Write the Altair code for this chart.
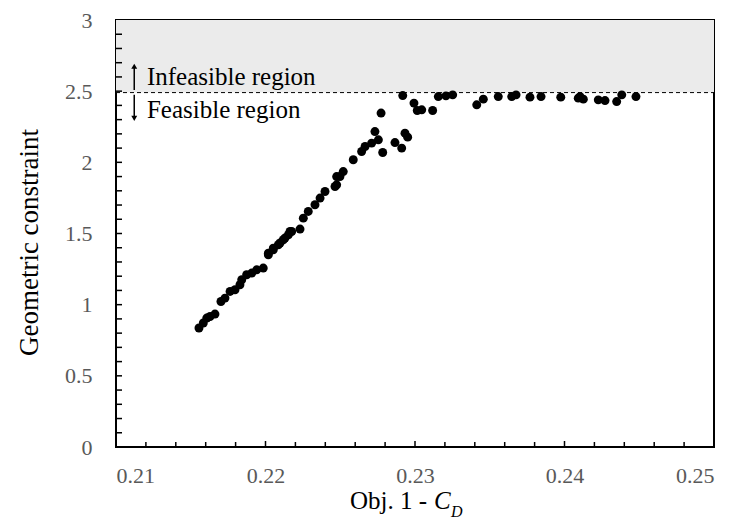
import altair as alt
import pandas as pd

# ---- data ----
cd_vals = [0.21555, 0.21584, 0.21607, 0.21629, 0.21662, 0.21702, 0.21729, 0.21763, 0.21796, 0.21829,
           0.21841, 0.21874, 0.21908, 0.21941, 0.21985, 0.22019, 0.22052, 0.22086, 0.22119, 0.22153,
           0.22175, 0.22019, 0.22052, 0.22097, 0.22130, 0.22164, 0.22231, 0.22253, 0.22286, 0.22331,
           0.22365, 0.22398, 0.22465, 0.22476, 0.22520, 0.22587, 0.22476, 0.22498, 0.22643, 0.22666,
           0.22710, 0.22732, 0.22755, 0.22784, 0.22773, 0.22866, 0.22911, 0.22933, 0.22951, 0.22918,
           0.22993, 0.23015, 0.23045, 0.23118, 0.23156, 0.23207, 0.23252, 0.23413, 0.23457, 0.23557,
           0.23647, 0.23676, 0.23769, 0.23843, 0.23975, 0.24092, 0.24104, 0.24126, 0.24226, 0.24271,
           0.24349, 0.24383, 0.24478]
geo_vals = [0.836, 0.871, 0.906, 0.917, 0.934, 1.022, 1.046, 1.093, 1.105, 1.140,
            1.175, 1.210, 1.222, 1.245, 1.257, 1.362, 1.386, 1.421, 1.456, 1.491,
            1.514, 1.350, 1.397, 1.433, 1.468, 1.514, 1.531, 1.608, 1.655, 1.702,
            1.749, 1.795, 1.830, 1.900, 1.935, 2.018, 1.842, 1.900, 2.076, 2.111,
            2.135, 2.216, 2.158, 2.069, 2.346, 2.139, 2.100, 2.205, 2.177, 2.469,
            2.416, 2.364, 2.369, 2.364, 2.462, 2.467, 2.474, 2.404, 2.444, 2.462,
            2.462, 2.474, 2.458, 2.462, 2.458, 2.451, 2.462, 2.444, 2.439, 2.434,
            2.427, 2.474, 2.462]

constraint_limit = 2.49
x_major = [0.21, 0.22, 0.23, 0.24, 0.25]
y_major = [0, 0.5, 1, 1.5, 2, 2.5, 3]
x_minor = [round(0.21 + 0.002 * i, 3) for i in range(1, 20) if i % 5 != 0]
y_minor = [round(0.1 * i, 1) for i in range(1, 30) if i % 5 != 0]
labels_up = ["Infeasible region"]
labels_down = ["Feasible region"]

W, H = 598, 427
FONT = "'Liberation Serif', 'Times New Roman', serif"

xs = alt.Scale(domain=[0.21, 0.25], nice=False, zero=False)
ys = alt.Scale(domain=[0, 3], nice=False, zero=False)

pts = pd.DataFrame({"cd": cd_vals, "geo": geo_vals})

# shaded infeasible band
band = alt.Chart(pd.DataFrame({"y0": [constraint_limit], "y1": [3]})).mark_rect(
    color="#ebebeb"
).encode(
    x=alt.value(0), x2=alt.value(W),
    y=alt.Y("y0:Q", scale=ys,
            axis=alt.Axis(values=y_major, format="~g", title="Geometric constraint",
                          ticks=False, tickSize=0, domain=False, grid=False,
                          labelPadding=24, labelFontSize=22, labelFont=FONT,
                          labelColor="#595959", titleFont=FONT, titleFontSize=27,
                          titleFontWeight="normal", titleColor="black",
                          titleX=-79, titleY=222, titleAngle=270,
                          titleBaseline="alphabetic", titleAlign="center")),
    y2="y1:Q",
)

limit = alt.Chart(pd.DataFrame({"y": [constraint_limit]})).mark_rule(
    color="black", strokeWidth=1, strokeDash=[4, 3]
).encode(x=alt.value(0), x2=alt.value(W), y=alt.Y("y:Q", scale=ys))

scatter = alt.Chart(pts).mark_circle(size=80, color="black", opacity=1).encode(
    x=alt.X("cd:Q", scale=xs,
            axis=alt.Axis(values=x_major, format="~g", title=None, ticks=False, tickSize=0,
                          domain=False, grid=False, labelPadding=18, labelFontSize=22,
                          labelFont=FONT, labelColor="#595959")),
    y=alt.Y("geo:Q", scale=ys),
)

# inward tick marks
x_ticks = alt.Chart(pd.DataFrame({"v": x_major[1:-1]})).mark_rule(color="black", strokeWidth=1.5).encode(
    x=alt.X("v:Q", scale=xs), y=alt.value(H), y2=alt.value(H - 6))
x_ticks_minor = alt.Chart(pd.DataFrame({"v": x_minor})).mark_rule(color="black", strokeWidth=1.5).encode(
    x=alt.X("v:Q", scale=xs), y=alt.value(H), y2=alt.value(H - 5))
y_ticks = alt.Chart(pd.DataFrame({"v": y_major[1:-1] + y_minor})).mark_rule(color="black", strokeWidth=1.5).encode(
    y=alt.Y("v:Q", scale=ys), x=alt.value(0), x2=alt.value(6))

# arrows
arrow_x = 0.21122
shafts = alt.Chart(pd.DataFrame({"x": [arrow_x, arrow_x], "a": [2.509, 2.474], "b": [2.67, 2.31]})).mark_rule(
    color="black", strokeWidth=1.5).encode(
    x=alt.X("x:Q", scale=xs), y=alt.Y("a:Q", scale=ys), y2="b:Q")
head_up = alt.Chart(pd.DataFrame({"x": [arrow_x], "y": [2.675]})).mark_point(
    shape="triangle-up", filled=True, color="black", size=35, opacity=1).encode(
    x=alt.X("x:Q", scale=xs), y=alt.Y("y:Q", scale=ys))
head_down = alt.Chart(pd.DataFrame({"x": [arrow_x], "y": [2.309]})).mark_point(
    shape="triangle-down", filled=True, color="black", size=35, opacity=1).encode(
    x=alt.X("x:Q", scale=xs), y=alt.Y("y:Q", scale=ys))

txt_up = alt.Chart(pd.DataFrame({"x": [0.21207], "y": [2.544], "t": labels_up})).mark_text(
    align="left", baseline="alphabetic", font=FONT, fontSize=25, color="black").encode(
    x=alt.X("x:Q", scale=xs), y=alt.Y("y:Q", scale=ys), text="t:N")
txt_down = alt.Chart(pd.DataFrame({"x": [0.21207], "y": [2.312], "t": labels_down})).mark_text(
    align="left", baseline="alphabetic", font=FONT, fontSize=25, color="black").encode(
    x=alt.X("x:Q", scale=xs), y=alt.Y("y:Q", scale=ys), text="t:N")

# x-axis title "Obj. 1 - C_D"
t1 = alt.Chart(pd.DataFrame({"t": ["Obj. 1 -"]})).mark_text(
    align="right", baseline="alphabetic", font=FONT, fontSize=25, color="black").encode(
    x=alt.value(311), y=alt.value(489), text="t:N")
t2 = alt.Chart(pd.DataFrame({"t": ["C"]})).mark_text(
    align="left", baseline="alphabetic", font=FONT, fontSize=25, fontStyle="italic", color="black").encode(
    x=alt.value(318), y=alt.value(489), text="t:N")
t3 = alt.Chart(pd.DataFrame({"t": ["D"]})).mark_text(
    align="left", baseline="alphabetic", font=FONT, fontSize=16, fontStyle="italic", color="black").encode(
    x=alt.value(335), y=alt.value(497), text="t:N")

chart = alt.layer(
    band, limit, scatter, x_ticks, x_ticks_minor, y_ticks, shafts, head_up, head_down,
    txt_up, txt_down, t1, t2, t3
).properties(
    width=W, height=H,
    padding={"left": 116, "top": 20, "right": 21, "bottom": 79},
    autosize=alt.AutoSizeParams(type="none"),
    background="white",
).configure_view(stroke="black", strokeWidth=2)

chart.save("out.html", embed_options={"renderer": "svg", "actions": False})
